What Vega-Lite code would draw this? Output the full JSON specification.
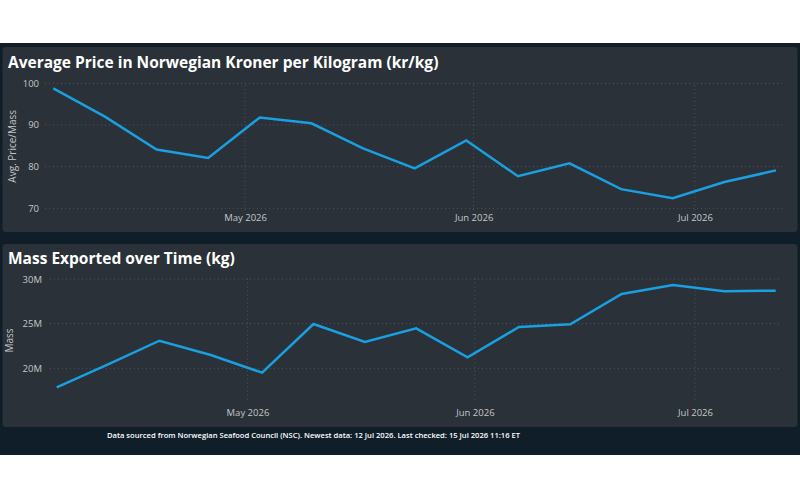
{
  "$schema": "https://vega.github.io/schema/vega-lite/v6.json",
  "background": "#0f1e29",
  "padding": 0,
  "bounds": "flush",
  "center": true,
  "spacing": 4,
  "config": {
    "font": "Open Sans",
    "view": {"stroke": null},
    "axis": {
      "labelFont": "Open Sans",
      "labelColor": "#c4c7ca",
      "labelFontSize": 9.5,
      "titleFont": "Open Sans",
      "titleColor": "#c4c7ca",
      "titleFontSize": 10,
      "titleFontWeight": "normal",
      "domain": false,
      "ticks": false,
      "grid": false
    },
    "title": {"font": "Open Sans", "fontWeight": "bold", "color": "#ffffff", "anchor": "start", "frame": "group"}
  },
  "datasets": {
    "weekly": [
      {"week": "2026-04-05", "price": 98.8, "mass": 17870000},
      {"week": "2026-04-12", "price": 92.0, "mass": 20450000},
      {"week": "2026-04-19", "price": 84.1, "mass": 23090000},
      {"week": "2026-04-26", "price": 82.1, "mass": 21490000},
      {"week": "2026-05-03", "price": 91.8, "mass": 19510000},
      {"week": "2026-05-10", "price": 90.4, "mass": 24960000},
      {"week": "2026-05-17", "price": 84.4, "mass": 22950000},
      {"week": "2026-05-24", "price": 79.6, "mass": 24480000},
      {"week": "2026-05-31", "price": 86.3, "mass": 21230000},
      {"week": "2026-06-07", "price": 77.7, "mass": 24620000},
      {"week": "2026-06-14", "price": 80.8, "mass": 24920000},
      {"week": "2026-06-21", "price": 74.6, "mass": 28320000},
      {"week": "2026-06-28", "price": 72.4, "mass": 29330000},
      {"week": "2026-07-05", "price": 76.3, "mass": 28620000},
      {"week": "2026-07-12", "price": 79.1, "mass": 28690000}
    ],
    "months": [{"d": "2026-05-01"}, {"d": "2026-06-01"}, {"d": "2026-07-01"}]
  },
  "vconcat": [
    {
      "width": 800,
      "height": 43,
      "view": {"fill": "#ffffff", "stroke": null},
      "data": {"values": []},
      "mark": "point",
      "encoding": {}
    },
    {
      "width": 795,
      "height": 185,
      "view": {"fill": "#2a3138", "stroke": null, "cornerRadius": 3},
      "title": {"text": "Average Price in Norwegian Kroner per Kilogram (kr/kg)", "fontSize": 15.5, "offset": -36, "baseline": "alphabetic", "dx": 5.5},
      "layer": [
        {
          "data": {"values": [{"v": 70}, {"v": 80}, {"v": 90}, {"v": 100}]},
          "mark": {"type": "rule", "color": "#4f585f", "strokeDash": [1, 3], "strokeWidth": 1},
          "encoding": {
            "y": {"field": "v", "type": "quantitative", "axis": {"title": "Avg. Price/Mass", "values": [70, 80, 90, 100], "offset": -36, "labelPadding": 0, "titlePadding": 5}},
            "x": {"datum": {"year": 2026, "month": 4, "date": 3, "hours": 21, "utc": true}, "type": "temporal"},
            "x2": {"datum": {"year": 2026, "month": 7, "date": 12, "hours": 19, "utc": true}}
          }
        },
        {
          "data": {"name": "months"},
          "mark": {"type": "rule", "color": "#4f585f", "strokeDash": [1, 3], "strokeWidth": 1},
          "encoding": {
            "x": {"field": "d", "type": "temporal", "axis": {"title": null, "format": "%b %Y", "values": [{"year": 2026, "month": 5, "date": 1, "utc": true}, {"year": 2026, "month": 6, "date": 1, "utc": true}, {"year": 2026, "month": 7, "date": 1, "utc": true}], "offset": -20, "labelPadding": 0}},
            "y": {"datum": 69.6, "type": "quantitative"},
            "y2": {"datum": 100.4}
          }
        },
        {
          "data": {"name": "weekly"},
          "mark": {"type": "line", "color": "#1a9fe0", "strokeWidth": 2.5},
          "encoding": {
            "x": {
              "field": "week",
              "type": "temporal",
              "scale": {
                "type": "utc",
                "domain": [{"year": 2026, "month": 4, "date": 5, "utc": true}, {"year": 2026, "month": 7, "date": 12, "utc": true}],
                "range": [50.8, 773.5]
              },
              "axis": {
                "title": null,
                "format": "%b %Y",
                "values": [{"year": 2026, "month": 5, "date": 1, "utc": true}, {"year": 2026, "month": 6, "date": 1, "utc": true}, {"year": 2026, "month": 7, "date": 1, "utc": true}],
                "offset": -20,
                "labelPadding": 0
              }
            },
            "y": {
              "field": "price",
              "type": "quantitative",
              "scale": {"domain": [70, 100], "range": [161.3, 36.3], "zero": false, "nice": false},
              "axis": {"title": "Avg. Price/Mass", "values": [70, 80, 90, 100], "offset": -36, "labelPadding": 0, "titlePadding": 5}
            }
          }
        }
      ]
    },
    {
      "width": 795,
      "height": 4,
      "data": {"values": []},
      "mark": "point",
      "encoding": {}
    },
    {
      "width": 795,
      "height": 183,
      "view": {"fill": "#2a3138", "stroke": null, "cornerRadius": 3},
      "title": {"text": "Mass Exported over Time (kg)", "fontSize": 15.5, "offset": -35, "baseline": "alphabetic", "dx": 5.5},
      "layer": [
        {
          "data": {"values": [{"v": 20000000}, {"v": 25000000}, {"v": 30000000}]},
          "mark": {"type": "rule", "color": "#4f585f", "strokeDash": [1, 3], "strokeWidth": 1},
          "encoding": {
            "y": {"field": "v", "type": "quantitative", "axis": {"title": "Mass", "format": "~s", "values": [20000000, 25000000, 30000000], "offset": -39, "labelPadding": 0, "titlePadding": 8, "titleY": 96}},
            "x": {"datum": {"year": 2026, "month": 4, "date": 4, "hours": 2, "utc": true}, "type": "temporal"},
            "x2": {"datum": {"year": 2026, "month": 7, "date": 12, "hours": 19, "utc": true}}
          }
        },
        {
          "data": {"name": "months"},
          "mark": {"type": "rule", "color": "#4f585f", "strokeDash": [1, 3], "strokeWidth": 1},
          "encoding": {
            "x": {"field": "d", "type": "temporal", "axis": {"title": null, "format": "%b %Y", "values": [{"year": 2026, "month": 5, "date": 1, "utc": true}, {"year": 2026, "month": 6, "date": 1, "utc": true}, {"year": 2026, "month": 7, "date": 1, "utc": true}], "offset": -20, "labelPadding": 0}},
            "y": {"datum": 16500000, "type": "quantitative"},
            "y2": {"datum": 30400000}
          }
        },
        {
          "data": {"name": "weekly"},
          "mark": {"type": "line", "color": "#1a9fe0", "strokeWidth": 2.5},
          "encoding": {
            "x": {
              "field": "week",
              "type": "temporal",
              "scale": {
                "type": "utc",
                "domain": [{"year": 2026, "month": 4, "date": 5, "utc": true}, {"year": 2026, "month": 7, "date": 12, "utc": true}],
                "range": [54.2, 773.2]
              },
              "axis": {
                "title": null,
                "format": "%b %Y",
                "values": [{"year": 2026, "month": 5, "date": 1, "utc": true}, {"year": 2026, "month": 6, "date": 1, "utc": true}, {"year": 2026, "month": 7, "date": 1, "utc": true}],
                "offset": -20,
                "labelPadding": 0
              }
            },
            "y": {
              "field": "mass",
              "type": "quantitative",
              "scale": {"domain": [20000000, 30000000], "range": [124.3, 35], "zero": false, "nice": false},
              "axis": {"title": "Mass", "format": "~s", "values": [20000000, 25000000, 30000000], "offset": -39, "labelPadding": 0, "titlePadding": 8, "titleY": 96}
            }
          }
        }
      ]
    },
    {
      "width": 800,
      "height": 20,
      "data": {"values": []},
      "mark": "point",
      "encoding": {}
    },
    {
      "width": 800,
      "height": 45,
      "view": {"fill": "#ffffff", "stroke": null},
      "title": {"text": "Data sourced from Norwegian Seafood Council (NSC). Newest data: 12 Jul 2026. Last checked: 15 Jul 2026 11:16 ET", "fontSize": 7.6, "fontWeight": 600, "offset": 9, "baseline": "alphabetic", "dx": 107},
      "data": {"values": []},
      "mark": "point",
      "encoding": {}
    }
  ]
}
